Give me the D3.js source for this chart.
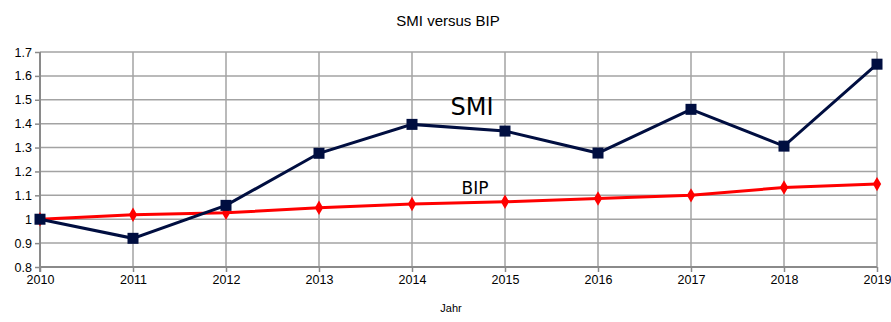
<!DOCTYPE html>
<html><head><meta charset="utf-8">
<script src="https://cdn.jsdelivr.net/npm/d3@7"></script>
<style>body{margin:0;background:#fff}svg{display:block}</style>
</head><body>
<svg id="c" width="891" height="322"></svg>
<script>
const years = [2010,2011,2012,2013,2014,2015,2016,2017,2018,2019];
const smi = [1.0,0.92,1.058,1.276,1.397,1.369,1.277,1.46,1.306,1.649];
const bip = [1.0,1.019,1.027,1.048,1.064,1.073,1.087,1.10,1.133,1.147];
const yTicks = [0.8,0.9,1,1.1,1.2,1.3,1.4,1.5,1.6,1.7];
const title = "SMI versus BIP";
const xTitle = "Jahr";

const svg = d3.select("#c");
const x = d3.scalePoint().domain(years).range([40,877]);
const y = d3.scaleLinear().domain([0.8,1.7]).range([267,52]);
const font = "'Liberation Sans', Arial, sans-serif";

// grid
svg.append("g").selectAll("line").data(yTicks).join("line")
  .attr("x1",40).attr("x2",877).attr("y1",d=>y(d)).attr("y2",d=>y(d))
  .attr("stroke","#a3a3a3").attr("stroke-width",1.5);
svg.append("g").selectAll("line").data(years).join("line")
  .attr("x1",d=>x(d)).attr("x2",d=>x(d)).attr("y1",52).attr("y2",267)
  .attr("stroke","#a3a3a3").attr("stroke-width",1.5);

// axes
const ya = svg.append("g").attr("transform","translate(40,0)")
  .call(d3.axisLeft(y).tickValues(yTicks).tickFormat(d=>String(d)).tickSize(5).tickPadding(3));
const xa = svg.append("g").attr("transform","translate(0,267)")
  .call(d3.axisBottom(x).tickSize(5).tickPadding(3).tickFormat(d=>String(d)));
[ya,xa].forEach(a=>{
  a.select(".domain").attr("stroke","#8a8a8a").attr("stroke-width",2);
  a.selectAll(".tick line").attr("stroke","#8a8a8a").attr("stroke-width",1.5);
  a.selectAll("text").attr("font-family",font).attr("font-size",12.5).attr("fill","#000");
});
xa.select(".domain").attr("d","M40,0H877");
ya.select(".domain").attr("d","M0,52V272");

// lines
const line = d3.line().x((d,i)=>x(years[i])).y(d=>y(d));
svg.append("path").datum(bip).attr("d",line).attr("fill","none")
  .attr("stroke","#ff0000").attr("stroke-width",3);
svg.append("g").selectAll("path").data(bip).join("path")
  .attr("d",d3.symbol(d3.symbolDiamond,60))
  .attr("transform",(d,i)=>`translate(${x(years[i])},${y(d)})`)
  .attr("fill","#ff0000");
svg.append("path").datum(smi).attr("d",line).attr("fill","none")
  .attr("stroke","#000e40").attr("stroke-width",3);
svg.append("g").selectAll("rect").data(smi).join("rect")
  .attr("x",(d,i)=>x(years[i])-5.5).attr("y",d=>y(d)-5.5)
  .attr("width",11).attr("height",11).attr("fill","#000e40");

// labels
svg.append("text").attr("x",448).attr("y",26).attr("text-anchor","middle")
  .attr("font-family",font).attr("font-size",15).text(title);
svg.append("text").attr("x",451).attr("y",312).attr("text-anchor","middle")
  .attr("font-family",font).attr("font-size",11).text(xTitle);
svg.append("text").attr("x",472).attr("y",115).attr("text-anchor","middle")
  .attr("font-family","'DejaVu Sans', sans-serif").attr("font-size",24).text("SMI");
svg.append("text").attr("x",475).attr("y",194).attr("text-anchor","middle")
  .attr("font-family","'DejaVu Sans', sans-serif").attr("font-size",17).text("BIP");
</script>
</body></html>
